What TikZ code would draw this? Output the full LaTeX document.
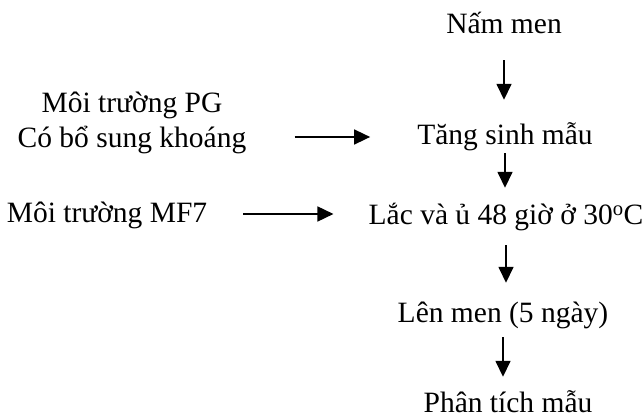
\documentclass[tikz,border=0pt]{standalone}
\usepackage{fontspec}
\setmainfont{Liberation Serif}
\usetikzlibrary{arrows.meta}
\begin{document}
\begin{tikzpicture}[x=1pt,y=1pt,
  lbl/.style={inner sep=0pt, anchor=base, font=\fontsize{29.5}{35}\selectfont, text height=20pt, text depth=6pt},
  lbl2/.style={inner sep=0pt, anchor=base, align=center, font=\fontsize{29.5}{35}\selectfont},
  arr/.style={line width=1.6pt, -{Triangle[length=16pt,width=15pt]}}]
\useasboundingbox (0,0) rectangle (643,417);
\node[lbl] (nam) at (504,383) {Nấm men};
\node[lbl] (tang) at (505,272) {Tăng sinh mẫu};
\node[lbl] (lac) at (506,192) {Lắc và ủ 48 giờ ở 30\textsuperscript{o}C};
\node[lbl] (len) at (503,94) {Lên men (5 ngày)};
\node[lbl, text depth=0pt] (phan) at (508,4) {Phân tích mẫu};
\node[lbl2] (pg) at (132,269) {Môi trường PG\\Có bổ sung khoáng};
\node[lbl] (mf) at (107,194) {Môi trường MF7};
\coordinate (h1) at ([yshift=8pt]tang.base west);
\coordinate (h2) at ([yshift=9pt]mf.base east);
\draw[arr, shorten <=20pt, shorten >=25pt] (nam.south) -- (nam.south |- tang.north);
\draw[arr, shorten <=2pt, shorten >=17pt] (tang.south) -- (tang.south |- lac.north);
\draw[arr, shorten <=14pt, shorten >=20pt] (lac.south) -- (lac.south |- len.north);
\draw[arr, shorten <=8pt, shorten >=16pt] (len.south) -- (len.south |- phan.north);
\draw[arr, shorten <=48pt, shorten >=47pt] (h1 -| pg.east) -- (h1);
\draw[arr, shorten <=36pt, shorten >=35pt] (h2) -- (h2 -| lac.west);
\end{tikzpicture}
\end{document}
